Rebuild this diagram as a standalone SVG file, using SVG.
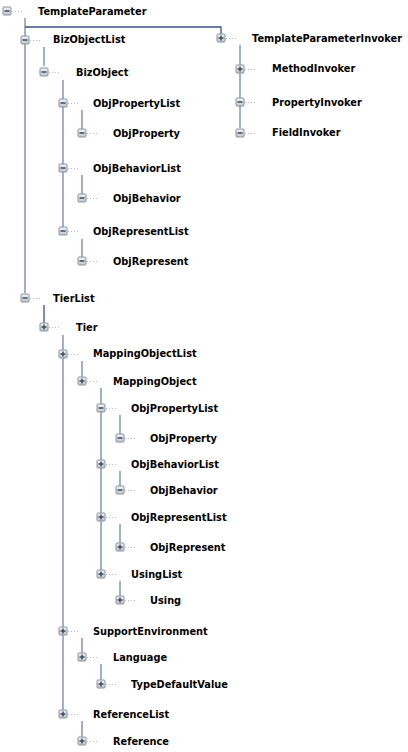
<svg xmlns="http://www.w3.org/2000/svg" width="408" height="752" viewBox="0 0 408 752">
<style>
.t{font-family:"DejaVu Sans",Verdana,sans-serif;font-weight:bold;font-size:9.8px;fill:#000}
.ln{stroke:#6a88ad;stroke-width:1.3;fill:none}
.dk{stroke:#3e4f8e;stroke-width:1.3;fill:none}
.box{fill:url(#g);stroke:#8a929e;stroke-width:1}
.bar{stroke:#3d4b5c;stroke-width:1.5}
.dot{stroke:#b8bcc2;stroke-width:1;stroke-dasharray:1 2}
</style>
<defs>
<linearGradient id="g" x1="0" y1="0" x2="0" y2="1"><stop offset="0" stop-color="#f4f5f7"/><stop offset="1" stop-color="#bfc5ce"/></linearGradient>
<g id="m"><line class="dot" x1="5" y1="0.5" x2="17" y2="0.5"/><rect class="box" x="-4" y="-4" width="8" height="8" rx="1"/><line class="bar" x1="-2.5" y1="0" x2="2.5" y2="0"/></g>
<g id="p"><use href="#m"/><line class="bar" x1="0" y1="-2.5" x2="0" y2="2.5"/></g>
</defs>
<rect width="408" height="752" fill="#fff"/>
<g id="connectors">
<path class="ln" d="M25,18V293"/>
<path class="dk" d="M25,27H221V34"/>
<path class="ln" d="M44,47V66"/>
<path class="ln" d="M63,80V228"/>
<path class="ln" d="M82,110V129M82,175V194M82,239V257"/>
<path class="dk" d="M44,305V330"/>
<path class="ln" d="M63,335V714"/>
<path class="ln" d="M82,361V381"/>
<path class="ln" d="M101,388V574"/>
<path class="ln" d="M120,415V438M120,471V490M120,524V547M120,581V600"/>
<path class="ln" d="M82,638V657M101,664V684M82,721V741"/>
<path class="ln" d="M240,45V128"/>
</g>
<g id="n1"><use href="#m" x="7" y="11"/><text class="t" x="38" y="14.5">TemplateParameter</text></g>
<g id="n2"><use href="#m" x="25" y="40"/><text class="t" x="53" y="43">BizObjectList</text></g>
<g id="n3"><use href="#m" x="44" y="72"/><text class="t" x="76" y="76">BizObject</text></g>
<g id="n4"><use href="#m" x="63" y="103"/><text class="t" x="93" y="107">ObjPropertyList</text></g>
<g id="n5"><use href="#m" x="82" y="133"/><text class="t" x="113" y="137">ObjProperty</text></g>
<g id="n6"><use href="#m" x="63" y="168"/><text class="t" x="93" y="172">ObjBehaviorList</text></g>
<g id="n7"><use href="#m" x="82" y="198"/><text class="t" x="113" y="202">ObjBehavior</text></g>
<g id="n8"><use href="#m" x="63" y="231"/><text class="t" x="93" y="235">ObjRepresentList</text></g>
<g id="n9"><use href="#m" x="82" y="261"/><text class="t" x="113" y="265">ObjRepresent</text></g>
<g id="n10"><use href="#m" x="25" y="298"/><text class="t" x="53" y="302">TierList</text></g>
<g id="n11"><use href="#p" x="44" y="327"/><text class="t" x="76" y="331">Tier</text></g>
<g id="n12"><use href="#p" x="63" y="354"/><text class="t" x="93" y="357">MappingObjectList</text></g>
<g id="n13"><use href="#p" x="82" y="381"/><text class="t" x="113" y="385">MappingObject</text></g>
<g id="n14"><use href="#m" x="101" y="408"/><text class="t" x="131" y="412">ObjPropertyList</text></g>
<g id="n15"><use href="#m" x="120" y="438"/><text class="t" x="150" y="442">ObjProperty</text></g>
<g id="n16"><use href="#p" x="101" y="464"/><text class="t" x="131" y="468">ObjBehaviorList</text></g>
<g id="n17"><use href="#m" x="120" y="490"/><text class="t" x="150" y="494">ObjBehavior</text></g>
<g id="n18"><use href="#p" x="101" y="517"/><text class="t" x="131" y="521">ObjRepresentList</text></g>
<g id="n19"><use href="#p" x="120" y="547"/><text class="t" x="150" y="551">ObjRepresent</text></g>
<g id="n20"><use href="#p" x="101" y="574"/><text class="t" x="131" y="578">UsingList</text></g>
<g id="n21"><use href="#p" x="120" y="600"/><text class="t" x="150" y="604">Using</text></g>
<g id="n22"><use href="#p" x="63" y="631"/><text class="t" x="93" y="635">SupportEnvironment</text></g>
<g id="n23"><use href="#p" x="82" y="657"/><text class="t" x="113" y="661">Language</text></g>
<g id="n24"><use href="#p" x="101" y="684"/><text class="t" x="131" y="688">TypeDefaultValue</text></g>
<g id="n25"><use href="#p" x="63" y="714"/><text class="t" x="93" y="718">ReferenceList</text></g>
<g id="n26"><use href="#p" x="82" y="741"/><text class="t" x="113" y="745">Reference</text></g>
<g id="n27"><use href="#p" x="221" y="38"/><text class="t" x="252" y="42">TemplateParameterInvoker</text></g>
<g id="n28"><use href="#p" x="240" y="69"/><text class="t" x="272" y="72">MethodInvoker</text></g>
<g id="n29"><use href="#m" x="240" y="102"/><text class="t" x="272" y="106">PropertyInvoker</text></g>
<g id="n30"><use href="#m" x="240" y="133"/><text class="t" x="272" y="136">FieldInvoker</text></g>
</svg>
